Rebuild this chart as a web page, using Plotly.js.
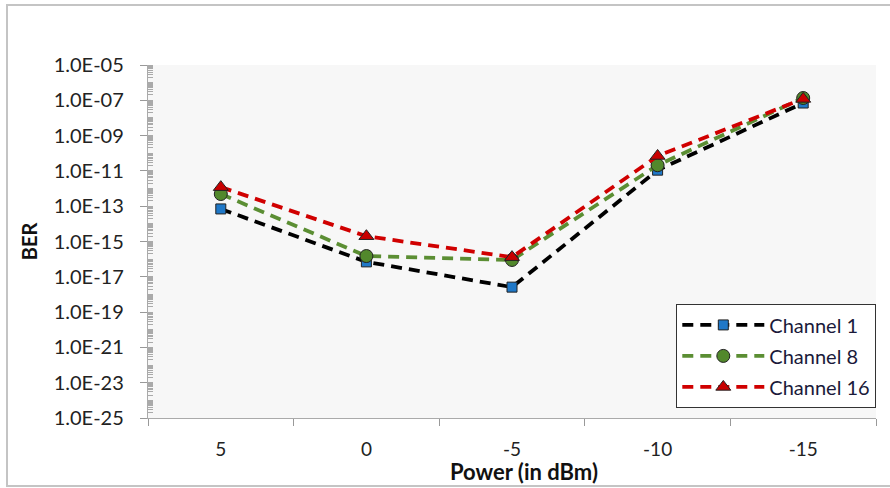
<!DOCTYPE html>
<html>
<head>
<meta charset="utf-8">
<script src="https://cdn.plot.ly/plotly-3.0.1.min.js"></script>
<style>
  html, body { margin: 0; padding: 0; background: #fff; }
  #chart { width: 890px; height: 488px; }
</style>
</head>
<body>
<div id="chart"></div>
<script>
const categories = ["5", "0", "-5", "-10", "-15"];
const ch1 = [7e-14, 7e-17, 2.6e-18, 1.1e-11, 7e-8];
const ch8 = [4.9e-13, 1.5e-16, 9e-17, 2.1e-11, 1.35e-7];
const ch16 = [1.2e-12, 2e-15, 1.3e-16, 7e-11, 1.2e-7];
const yTickVals = [1e-25, 1e-23, 1e-21, 1e-19, 1e-17, 1e-15, 1e-13, 1e-11, 1e-9, 1e-7, 1e-5];
const yTickText = ["1.0E-25", "1.0E-23", "1.0E-21", "1.0E-19", "1.0E-17", "1.0E-15", "1.0E-13", "1.0E-11", "1.0E-09", "1.0E-07", "1.0E-05"];
const seriesNames = ["Channel 1", "Channel 8", "Channel 16"];

const FONT = "Lato, 'Open Sans', sans-serif";

function trace(name, y, lineColor, markerColor, symbol, size) {
  return {
    type: "scatter", mode: "lines+markers", name: name, legendgroup: name,
    x: categories, y: y,
    line: { color: lineColor, width: 3.8, dash: "11px,7px" },
    marker: { symbol: symbol, size: size, color: markerColor, line: { color: "#222", width: 1 } }
  };
}

const data = [
  trace(seriesNames[0], ch1, "#000000", "#1f78c8", "square", 10),
  trace(seriesNames[1], ch8, "#5b8e33", "#52882c", "circle", 13),
  trace(seriesNames[2], ch16, "#d00000", "#c80000", "triangle-up", 13)
];

const layout = {
  width: 890, height: 488,
  margin: { l: 148, r: 14, t: 65, b: 70 },
  paper_bgcolor: "#ffffff",
  plot_bgcolor: "#f7f7f7",
  font: { family: FONT, color: "#222", size: 20 },
  showlegend: true,
  legend: {
    x: 1.0, xanchor: "right", y: 0.028, yanchor: "bottom",
    bgcolor: "#ffffff", bordercolor: "#333", borderwidth: 1.3,
    font: { family: FONT, size: 20, color: "#1a1a3a" },
    itemwidth: 82, tracegroupgap: 2
  },
  xaxis: {
    type: "category",
    range: [-0.5, 4.5],
    tickson: "boundaries",
    ticks: "outside", ticklen: 7, tickcolor: "#999", tickwidth: 1,
    showline: true, linecolor: "#aaa", linewidth: 1.2,
    showgrid: false, zeroline: false,
    tickfont: { family: FONT, size: 19, color: "#222" },
    ticklabelstandoff: 14
  },
  yaxis: {
    type: "log",
    range: [-25, -5],
    tickmode: "array", tickvals: yTickVals, ticktext: yTickText,
    ticks: "outside", ticklen: 7, tickcolor: "#999", tickwidth: 1,
    minor: { tickmode: "linear", dtick: "D1", ticks: "inside", ticklen: 5, tickcolor: "#aaa", showgrid: false },
    showline: true, linecolor: "#aaa", linewidth: 1.2,
    showgrid: false, zeroline: false,
    tickfont: { family: FONT, size: 20, color: "#222" },
    ticklabelstandoff: 12,
    title: { text: "<b>BER</b>", font: { family: FONT, size: 20, color: "#111" }, standoff: 10 }
  },
  annotations: [
    { text: "<b>Power (in dBm)</b>", xref: "paper", yref: "paper",
      x: (524 - 148) / 728, y: (418 - 471) / 353, xanchor: "center", yanchor: "middle",
      showarrow: false, font: { family: FONT, size: 22, color: "#111" } }
  ],
  shapes: [
    { type: "rect", xref: "paper", yref: "paper",
      x0: (7 - 148) / 728, x1: (900 - 148) / 728,
      y0: (418 - 486) / 353, y1: (418 - 5) / 353,
      line: { color: "#c4c4c4", width: 2 }, fillcolor: "rgba(0,0,0,0)", layer: "below" }
  ]
};

Plotly.newPlot("chart", data, layout, { displayModeBar: false, staticPlot: true });
</script>
</body>
</html>
